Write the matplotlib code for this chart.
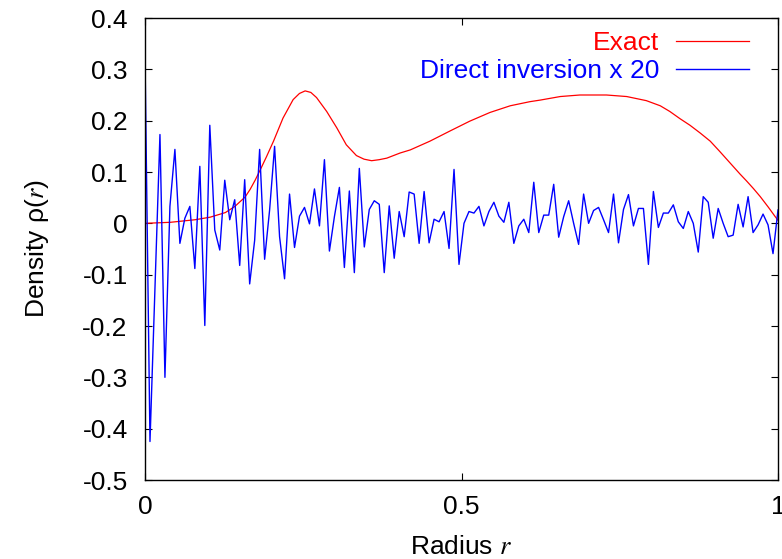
import numpy as np
import matplotlib
matplotlib.use("Agg")
import matplotlib.pyplot as plt

plt.rcParams['font.family'] = ['Liberation Sans', 'DejaVu Sans']
plt.rcParams['mathtext.fontset'] = 'stix'
plt.rcParams['axes.unicode_minus'] = False

# exact density profile
r_exact = [0.0, 0.04, 0.079, 0.103, 0.127, 0.142, 0.158, 0.166, 0.174, 0.182,
           0.192, 0.203, 0.218, 0.234, 0.244, 0.253, 0.262, 0.271, 0.287, 0.303,
           0.318, 0.334, 0.346, 0.358, 0.370, 0.382, 0.403, 0.419, 0.450, 0.482,
           0.513, 0.545, 0.577, 0.608, 0.624, 0.656, 0.687, 0.708, 0.729, 0.761,
           0.792, 0.814, 0.829, 0.845, 0.861, 0.877, 0.893, 0.908, 0.924, 0.940,
           0.950, 0.961, 0.972, 0.985, 0.995, 1.0]
rho_exact = [0.0, 0.002, 0.007, 0.012, 0.021, 0.033, 0.051, 0.066, 0.084, 0.104,
             0.130, 0.160, 0.205, 0.241, 0.253, 0.258, 0.255, 0.245, 0.218, 0.186,
             0.153, 0.132, 0.125, 0.122, 0.124, 0.127, 0.137, 0.143, 0.160, 0.180,
             0.199, 0.216, 0.229, 0.237, 0.240, 0.247, 0.250, 0.250, 0.250, 0.247,
             0.239, 0.229, 0.218, 0.204, 0.191, 0.176, 0.160, 0.140, 0.118, 0.096,
             0.083, 0.068, 0.052, 0.031, 0.014, 0.006]

# direct inversion (already multiplied by 20), 128 samples on [0, 1]
rho_direct = [
    0.324, -0.425, -0.125, 0.173, -0.300, 0.033, 0.144, -0.039, 0.010, 0.033,
    -0.088, 0.111, -0.199, 0.191, -0.013, -0.052, 0.084, 0.007, 0.046, -0.082,
    0.085, -0.118, -0.033, 0.144, -0.070, 0.026, 0.150, -0.026, -0.108, 0.057,
    -0.047, 0.014, 0.031, -0.001, 0.067, -0.005, 0.124, -0.054, 0.013, 0.070,
    -0.086, 0.063, -0.096, 0.107, -0.046, 0.027, 0.044, 0.037, -0.096, 0.034,
    -0.068, 0.023, -0.026, 0.061, 0.057, -0.039, 0.062, -0.038, 0.008, 0.003,
    0.023, -0.049, 0.105, -0.080, 0.000, 0.023, 0.020, 0.033, -0.005, 0.023,
    0.041, 0.014, 0.002, 0.041, -0.039, -0.005, 0.008, -0.018, 0.080, -0.018,
    0.016, 0.016, 0.076, -0.027, 0.013, 0.044, 0.000, -0.041, 0.057, 0.000,
    0.025, 0.031, 0.007, -0.018, 0.057, -0.038, 0.027, 0.056, -0.005, 0.029,
    0.029, -0.080, 0.062, -0.008, 0.020, 0.020, 0.036, 0.003, -0.010, 0.023,
    0.000, -0.056, 0.052, 0.041, -0.029, 0.029, 0.000, -0.026, -0.023, 0.037,
    -0.007, 0.052, -0.018, -0.003, 0.018, -0.003, -0.059, 0.026]
r_direct = np.linspace(0, 1, len(rho_direct))

yticks = [0.4, 0.3, 0.2, 0.1, 0, -0.1, -0.2, -0.3, -0.4, -0.5]
ytick_labels = ['0.4', '0.3', '0.2', '0.1', '0', '-0.1', '-0.2', '-0.3', '-0.4', '-0.5']
xticks = [0, 0.5, 1]
xtick_labels = ['0', '0.5', '1']

fs = 19

fig = plt.figure(figsize=(7.82, 5.59), dpi=100)
ax = fig.add_axes([145/782, 1 - 480/559, 633/782, 462/559])

ax.plot(r_exact, rho_exact, color='#ff0000', lw=0.9, label='Exact')
ax.plot(r_direct, rho_direct, color='#0000ff', lw=1.0, label='Direct inversion x 20')

ax.set_xlim(0, 1)
ax.set_ylim(-0.5, 0.4)
ax.set_xticks(xticks)
ax.set_xticklabels(xtick_labels)
ax.set_yticks(yticks)
ax.set_yticklabels(ytick_labels)
ax.tick_params(direction='in', length=5, width=0.8, top=True, right=True,
               labelsize=fs)
ax.tick_params(axis='x', pad=11)
ax.tick_params(axis='y', pad=12.5)
for s in ax.spines.values():
    s.set_linewidth(1.0)

ax.set_xlabel('Radius $r$', fontsize=fs, labelpad=11.5)
ax.set_ylabel(r'Density ρ($r$)', fontsize=fs, labelpad=22.5)

leg = ax.legend(loc='upper right', bbox_to_anchor=(0.9625, 0.9832),
                frameon=False, markerfirst=False,
                fontsize=fs, handlelength=2.75, handletextpad=0.66,
                labelspacing=0.15, borderpad=0.2, borderaxespad=0.0)
for txt, c in zip(leg.get_texts(), ['#ff0000', '#0000ff']):
    txt.set_color(c)

fig.savefig('out.png', dpi=100)
